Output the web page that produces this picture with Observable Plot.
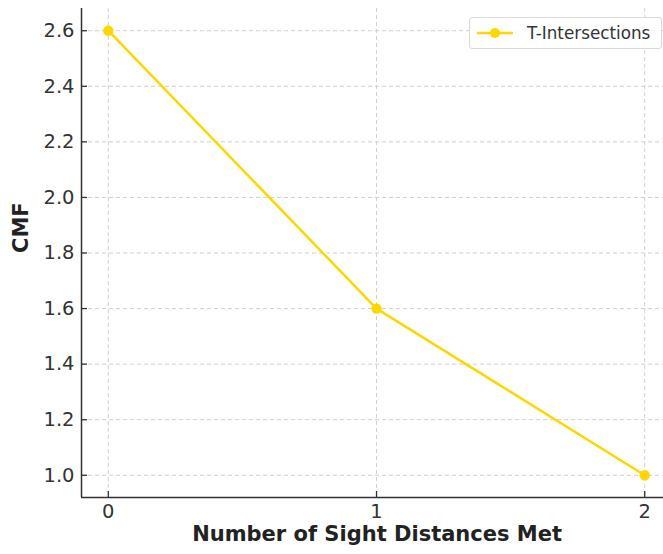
<!DOCTYPE html>
<html>
<head>
<meta charset="utf-8">
<script src="https://cdn.jsdelivr.net/npm/d3@7"></script>
<script src="https://cdn.jsdelivr.net/npm/@observablehq/plot@0.6"></script>
<style>
  html, body { margin: 0; padding: 0; background: #fff; }
  #wrap { position: relative; width: 663px; height: 554px; font-family: "DejaVu Sans", sans-serif; }
  #legend { position: absolute; left: 469px; top: 17px; width: 191px; height: 30px;
    border: 1px solid #d9d9d9; border-radius: 3px; background: rgba(255,255,255,0.85);
    display: flex; align-items: center; font-size: 16.8px; color: #333; white-space: nowrap; }
  #legend svg { margin-left: 6px; margin-right: 13px; flex: none; }
</style>
</head>
<body>
<div id="wrap"></div>
<script>
const sightDistances = [0, 1, 2];
const cmfValues = [2.6, 1.6, 1.0];
const seriesName = "T-Intersections";
const xTicks = [0, 1, 2];
const yTicks = [1.0, 1.2, 1.4, 1.6, 1.8, 2.0, 2.2, 2.4, 2.6];
const xLabel = "Number of Sight Distances Met";
const yLabel = "CMF";

const data = sightDistances.map((x, i) => ({x, y: cmfValues[i]}));
const color = "#FFD700";
const W = 663, H = 554, mL = 81, mR = 0, mT = 8, mB = 57;
const plotW = W - mL - mR, plotH = H - mT - mB;

const chart = Plot.plot({
  width: W, height: H,
  marginLeft: mL, marginRight: mR, marginTop: mT, marginBottom: mB,
  style: {fontFamily: "DejaVu Sans, sans-serif", background: "white"},
  x: {domain: [-0.1, 2.07], ticks: xTicks},
  y: {domain: [0.92, 2.68], ticks: yTicks},
  marks: [
    Plot.gridX(xTicks, {stroke: "#cfcfcf", strokeOpacity: 1, strokeDasharray: "4,3", strokeWidth: 1}),
    Plot.gridY(yTicks, {stroke: "#cfcfcf", strokeOpacity: 1, strokeDasharray: "4,3", strokeWidth: 1}),
    Plot.axisX(xTicks, {tickSize: 0, tickPadding: 7, fontSize: 19.5, fill: "#333", tickFormat: d => d3.format("d")(d), label: null}),
    Plot.axisY(yTicks, {tickSize: 0, tickPadding: 7, fontSize: 19.5, fill: "#333", tickFormat: d => d3.format(".1f")(d), label: null}),
    Plot.tickX(xTicks, {x: d => d, stroke: "#333", strokeWidth: 1.3, insetTop: plotH - 6}),
    Plot.tickY(yTicks, {y: d => d, stroke: "#333", strokeWidth: 1.3, insetRight: plotW - 6}),
    Plot.ruleX([-0.1], {stroke: "#333", strokeWidth: 1.5}),
    Plot.ruleY([0.92], {stroke: "#333", strokeWidth: 1.5}),
    Plot.line(data, {x: "x", y: "y", stroke: color, strokeWidth: 2.5}),
    Plot.dot(data, {x: "x", y: "y", r: 5.2, fill: color, stroke: "none"}),
    Plot.text([xLabel], {x: () => 1.002, frameAnchor: "bottom", dy: 43.5, text: d => d, fontSize: 21, fontWeight: "bold", fill: "#222"}),
    Plot.text([yLabel], {frameAnchor: "left", dx: -60, rotate: -90, text: d => d, fontSize: 21, fontWeight: "bold", fill: "#222"})
  ]
});
const wrap = document.getElementById("wrap");
wrap.appendChild(chart);

const legend = document.createElement("div");
legend.id = "legend";
legend.innerHTML = `<svg width="38" height="14"><line x1="1" y1="7" x2="37" y2="7" stroke="${color}" stroke-width="2.5"/><circle cx="19" cy="7" r="5" fill="${color}"/></svg><span>${seriesName}</span>`;
wrap.appendChild(legend);
</script>
</body>
</html>
